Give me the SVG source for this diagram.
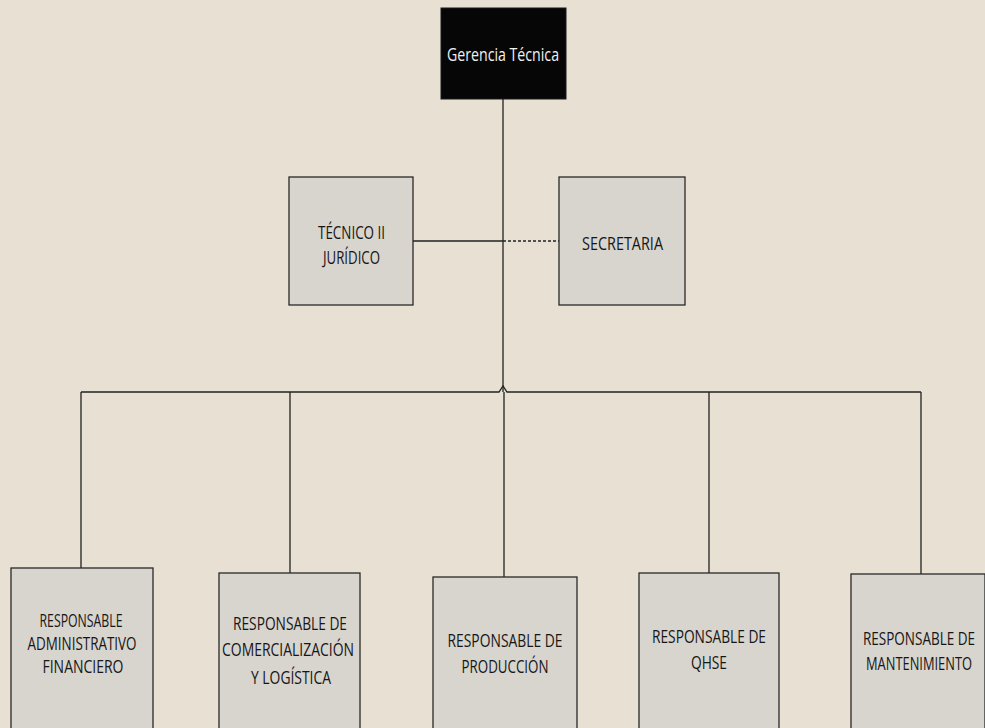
<svg xmlns="http://www.w3.org/2000/svg" width="985" height="728" viewBox="0 0 985 728">
  <style>
    .box { fill: #d8d4ce; stroke: #2a2a2a; stroke-width: 1.3; }
    .head { fill: #060606; stroke: #1a1a1a; stroke-width: 1; }
    .lbl { font-family: "Open Sans", "DejaVu Sans", sans-serif; font-size: 18px; fill: #161616; text-anchor: middle; }
    .hlbl { font-family: "Open Sans", "DejaVu Sans", sans-serif; font-size: 19px; fill: #f0f0f0; text-anchor: middle; }
    .ln { fill: none; stroke: #222; stroke-width: 1.3; }
    .dot { fill: none; stroke: #222; stroke-width: 1.6; stroke-dasharray: 3 2; }
  </style>
  <rect width="985" height="728" fill="#e7e0d3"/>

  <g id="connectors">
    <line class="ln" x1="503" y1="99" x2="503" y2="392"/>
    <line class="ln" x1="413" y1="241" x2="503" y2="241"/>
    <line class="dot" x1="503" y1="241" x2="559" y2="241"/>
    <path class="ln" d="M81 392 H499 L503 386 L507 392 H921"/>
    <line class="ln" x1="81" y1="392" x2="81" y2="568"/>
    <line class="ln" x1="290" y1="392" x2="290" y2="573"/>
    <line class="ln" x1="504" y1="392" x2="504" y2="577"/>
    <line class="ln" x1="709" y1="392" x2="709" y2="573"/>
    <line class="ln" x1="921" y1="392" x2="921" y2="574"/>
  </g>

  <g id="gerencia">
    <rect class="head" x="441" y="8" width="125" height="91"/>
    <text class="hlbl" x="503" y="61" textLength="112" lengthAdjust="spacingAndGlyphs">Gerencia Técnica</text>
  </g>

  <g id="tecnico-juridico">
    <rect class="box" x="289" y="177" width="124" height="128"/>
    <text class="lbl" x="351.5" y="239" textLength="67" lengthAdjust="spacingAndGlyphs">TÉCNICO II</text>
    <text class="lbl" x="351.5" y="263.5" textLength="57" lengthAdjust="spacingAndGlyphs">JURÍDICO</text>
  </g>

  <g id="secretaria">
    <rect class="box" x="559" y="177" width="126" height="128"/>
    <text class="lbl" x="622.5" y="250" textLength="81" lengthAdjust="spacingAndGlyphs">SECRETARIA</text>
  </g>

  <g id="admin-financiero">
    <rect class="box" x="11" y="568" width="142" height="165"/>
    <text class="lbl" x="81" y="627" textLength="83" lengthAdjust="spacingAndGlyphs">RESPONSABLE</text>
    <text class="lbl" x="82" y="650" textLength="109" lengthAdjust="spacingAndGlyphs">ADMINISTRATIVO</text>
    <text class="lbl" x="83" y="673" textLength="81" lengthAdjust="spacingAndGlyphs">FINANCIERO</text>
  </g>

  <g id="comercializacion">
    <rect class="box" x="219" y="573" width="141" height="160"/>
    <text class="lbl" x="290" y="630" textLength="114" lengthAdjust="spacingAndGlyphs">RESPONSABLE DE</text>
    <text class="lbl" x="288" y="656" textLength="132" lengthAdjust="spacingAndGlyphs">COMERCIALIZACIÓN</text>
    <text class="lbl" x="291" y="684" textLength="80" lengthAdjust="spacingAndGlyphs">Y LOGÍSTICA</text>
  </g>

  <g id="produccion">
    <rect class="box" x="433" y="577" width="144" height="156"/>
    <text class="lbl" x="505" y="647" textLength="115" lengthAdjust="spacingAndGlyphs">RESPONSABLE DE</text>
    <text class="lbl" x="505" y="673" textLength="87" lengthAdjust="spacingAndGlyphs">PRODUCCIÓN</text>
  </g>

  <g id="qhse">
    <rect class="box" x="639" y="573" width="140" height="160"/>
    <text class="lbl" x="709" y="643" textLength="114" lengthAdjust="spacingAndGlyphs">RESPONSABLE DE</text>
    <text class="lbl" x="709" y="669" textLength="36" lengthAdjust="spacingAndGlyphs">QHSE</text>
  </g>

  <g id="mantenimiento">
    <rect class="box" x="851" y="574" width="134" height="159"/>
    <text class="lbl" x="919" y="645" textLength="112" lengthAdjust="spacingAndGlyphs">RESPONSABLE DE</text>
    <text class="lbl" x="919" y="670" textLength="106" lengthAdjust="spacingAndGlyphs">MANTENIMIENTO</text>
  </g>
</svg>
